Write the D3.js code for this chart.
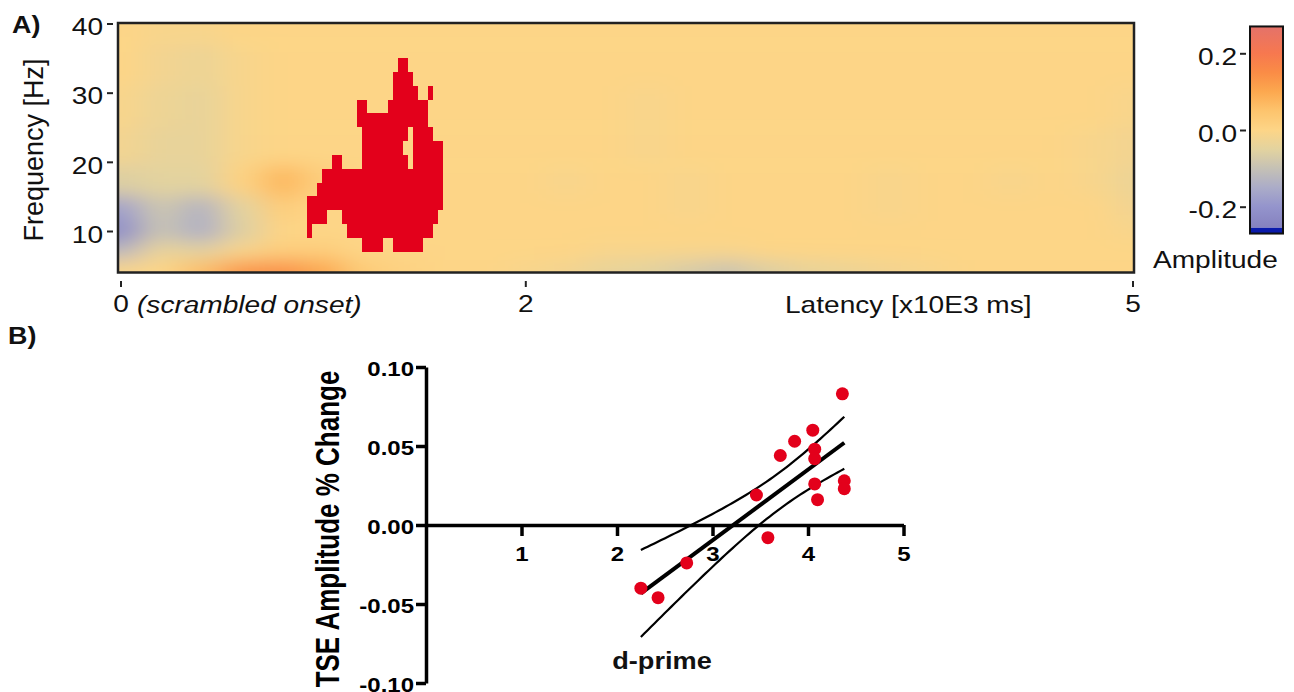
<!DOCTYPE html>
<html>
<head>
<meta charset="utf-8">
<script src="https://cdn.jsdelivr.net/npm/d3@7"></script>
<style>
	body{ margin:0; background:#fff; }
	svg{ display:block; font-family:"Liberation Sans", Arial, sans-serif; }
</style>
</head>
<body>
<div id="chart"></div>
<script>

// ---------- panel A : time-frequency map ----------
const gridTimes = [0,0.2,0.4,0.6,0.8,1.0,1.2,1.4,1.6,1.8,2.0,2.2,2.4,2.6,2.8,3.0,3.2,3.4,3.6,3.8,4.0,4.2,4.4,4.6,4.8,5.0];
const gridFreqs = [40, 34, 28, 22, 17, 13, 10, 7, 4.5];
const ampGrid = [
	[0,-0.01,-0.01,0,0,0,0,0,0,0,0,0,0,0,0,0,0,0,0,0,0,0,0,0,0,0],
	[0,-0.02,-0.03,-0.01,0,0,0,0,0,0,0,0,0,0,0,0,0,0,0,0,0,0,0,0,0,0],
	[-0.01,-0.03,-0.04,-0.01,0,0,0,0,0,0,0,0,0,-0.01,0,0,0,0,0,0,0,0,0,0,0,-0.01],
	[-0.02,-0.04,-0.04,-0.01,0,0,0,0,0,0,0,0,0,-0.01,0,0,0,0,0,0,0,0,0,0,-0.01,-0.02],
	[-0.06,-0.05,-0.05,0.01,0.07,0.02,0,0,0,0,0,-0.01,0,0,-0.01,0,0,0,0,-0.01,0,0,-0.01,0,-0.01,-0.03],
	[-0.17,-0.09,-0.13,-0.05,0.02,0,0,0,0,0,0,0,0,0,-0.01,0,0,0,0,-0.01,0,0,0,0,0,-0.02],
	[-0.22,-0.10,-0.14,-0.06,0,0,0,0,0,0,0,0,0,0,0,0,0,0,0,0,0,0,0,0,0,-0.01],
	[-0.12,-0.04,-0.05,-0.01,0.02,0.02,0,0,0,0,0,0,-0.01,-0.01,-0.01,-0.01,0,0,0,0,0,0,0,0,0,0],
	[-0.01,0,0.06,0.13,0.14,0.10,0.03,0.01,0,0,-0.01,-0.02,-0.04,-0.05,-0.07,-0.09,-0.06,-0.04,-0.03,-0.02,-0.01,0,0,0,0,0]
];

// significant cluster, bins of 25 ms starting at 0.92 (x10E3 ms), 2 Hz rows
const clusterStart = 0.92;
const clusterBin = 0.025;
const clusterFreqs = [34,32,30,28,26,24,22,20,18,16,14,12,10,8];
const clusterRuns = [
	[[18,20]],
	[[17,21]],
	[[17,22],[24,25]],
	[[10,12],[16,24]],
	[[10,24]],
	[[11,20],[21,25]],
	[[11,19],[21,27]],
	[[5,7],[11,20],[21,27]],
	[[3,27]],
	[[2,27]],
	[[0,27]],
	[[0,4],[7,26]],
	[[0,1],[8,25]],
	[[11,15],[17,23]]
];

const freqTicks = [10, 20, 30, 40];
const latencyTicks = [0, 2, 5];
const ampTicks = [-0.2, 0, 0.2];

// ---------- panel B : scatter ----------
const dprime    = [4.36, 4.05, 3.86, 3.71, 4.07, 4.07, 4.07, 4.10, 4.38, 4.38, 3.46, 3.58, 2.73, 2.25, 2.43];
const tseChange = [0.083, 0.060, 0.053, 0.044, 0.048, 0.042, 0.026, 0.016, 0.028, 0.023, 0.019, -0.008, -0.024, -0.040, -0.046];
const dprimeTicks = [1, 2, 3, 4, 5];
const tseTicks = [-0.10, -0.05, 0.00, 0.05, 0.10];

// colour map of the amplitude bar
const ampStops  = [-0.255, -0.2, -0.15, -0.1, -0.05, 0, 0.05, 0.1, 0.15, 0.2, 0.27];
const ampColors = ["#8581bf","#9494cc","#abacc8","#c5c1b5","#e3d39f","#fdd587","#fdc46d","#fca84f","#fa8c46","#f7784f","#e4726a"];

const SX = 1.17;	// the figure's text is stretched sideways
const FS = 24;

const svg = d3.select("#chart")
		.append("svg")
		.attr("width", 1294)
		.attr("height", 692);

const defs = svg.append("defs");

function stretchText(g, sx){
	g.selectAll("text").each(function(){
		const t = d3.select(this);
		const x = +t.attr("x") || 0;
		const y = +t.attr("y") || 0;
		t.attr("x", null).attr("y", null)
			.attr("transform", `translate(${x},${y}) scale(${sx},1)`);
	});
}

function label(x, y, txt, opts){
	opts = opts || {};
	return svg.append("text")
		.attr("transform", `translate(${x},${y}) scale(${opts.sx || SX},1)`)
		.attr("text-anchor", opts.anchor || "start")
		.attr("font-size", opts.size || FS)
		.attr("font-weight", opts.bold ? "bold" : null)
		.attr("font-style", opts.italic ? "italic" : null)
		.attr("fill", "#111")
		.text(txt);
}

// ===== panel A =====
const xA = d3.scaleLinear().domain([0, 5]).range([120.5, 1132.5]);
const yA = d3.scaleLinear().domain([4, 40]).range([272.5, 23.5]);
const colorA = d3.scaleLinear().domain(ampStops).range(ampColors).clamp(true);

const plotA = {x0:118, x1:1134, y0:23, y1:272.5};

defs.append("clipPath").attr("id", "clipA")
	.append("rect")
		.attr("x", plotA.x0).attr("y", plotA.y0)
		.attr("width", plotA.x1 - plotA.x0).attr("height", plotA.y1 - plotA.y0);

defs.append("filter")
		.attr("id", "soft")
		.attr("filterUnits", "userSpaceOnUse")
		.attr("x", 0).attr("y", -100).attr("width", 1294).attr("height", 500)
	.append("feGaussianBlur")
		.attr("stdDeviation", "15 9");

// cell bounds half way between grid centres, outer cells pushed past the frame
const cells = [];
ampGrid.forEach((row, i) => {
	const fTop = i === 0 ? null : (gridFreqs[i - 1] + gridFreqs[i]) / 2;
	const fBot = i === gridFreqs.length - 1 ? null : (gridFreqs[i] + gridFreqs[i + 1]) / 2;
	row.forEach((v, j) => {
		const tL = j === 0 ? null : (gridTimes[j - 1] + gridTimes[j]) / 2;
		const tR = j === gridTimes.length - 1 ? null : (gridTimes[j] + gridTimes[j + 1]) / 2;
		cells.push({
			x0: tL === null ? plotA.x0 - 60 : xA(tL),
			x1: tR === null ? plotA.x1 + 60 : xA(tR),
			y0: fTop === null ? plotA.y0 - 60 : yA(fTop),
			y1: fBot === null ? plotA.y1 + 60 : yA(fBot),
			v: v
		});
	});
});

const mapG = svg.append("g").attr("clip-path", "url(#clipA)");

mapG.append("rect")
	.attr("x", plotA.x0).attr("y", plotA.y0)
	.attr("width", plotA.x1 - plotA.x0).attr("height", plotA.y1 - plotA.y0)
	.attr("fill", colorA(0));

mapG.append("g")
		.attr("filter", "url(#soft)")
	.selectAll("rect")
	.data(cells)
	.join("rect")
		.attr("x", d => d.x0)
		.attr("y", d => d.y0)
		.attr("width", d => d.x1 - d.x0 + 0.5)
		.attr("height", d => d.y1 - d.y0 + 0.5)
		.attr("fill", d => colorA(d.v));

// cluster blocks
const blocks = [];
clusterRuns.forEach((runs, i) => {
	runs.forEach(r => blocks.push({f: clusterFreqs[i], k0: r[0], k1: r[1]}));
});

mapG.append("g")
	.selectAll("rect")
	.data(blocks)
	.join("rect")
		.attr("x", d => xA(clusterStart + d.k0 * clusterBin))
		.attr("y", d => yA(d.f + 1))
		.attr("width", d => xA(clusterStart + d.k1 * clusterBin) - xA(clusterStart + d.k0 * clusterBin))
		.attr("height", d => yA(d.f - 1) - yA(d.f + 1))
		.attr("fill", "#e3001b")
		.attr("shape-rendering", "crispEdges");

svg.append("rect")
	.attr("x", plotA.x0).attr("y", plotA.y0)
	.attr("width", plotA.x1 - plotA.x0).attr("height", plotA.y1 - plotA.y0)
	.attr("fill", "none")
	.attr("stroke", "#222")
	.attr("stroke-width", 2.5);

// frequency axis
const yAxisA = svg.append("g")
	.attr("transform", "translate(113,0)")
	.call(d3.axisLeft(yA).tickValues(freqTicks).tickSize(6).tickPadding(4).tickFormat(d => d));
yAxisA.select(".domain").remove();
yAxisA.selectAll("line").attr("stroke", "#222").attr("stroke-width", 2);
yAxisA.selectAll("text").attr("font-size", FS).attr("font-family", null).attr("fill", "#111").attr("dy", "0.47em");
stretchText(yAxisA, SX);

// latency axis
const xAxisA = svg.append("g")
	.attr("transform", "translate(0,281)")
	.call(d3.axisBottom(xA).tickValues(latencyTicks).tickSize(6).tickPadding(8).tickFormat(d => d));
xAxisA.select(".domain").remove();
xAxisA.selectAll("line").attr("stroke", "#222").attr("stroke-width", 2);
xAxisA.selectAll("text").attr("font-size", FS).attr("font-family", null).attr("fill", "#111");
stretchText(xAxisA, SX);

label(137, 313, "(scrambled onset)", {italic:true});
label(785, 313, "Latency [x10E3 ms]");

svg.append("text")
	.attr("transform", "translate(43,150) rotate(-90)")
	.attr("text-anchor", "middle")
	.attr("font-size", 27)
	.attr("fill", "#111")
	.text("Frequency [Hz]");

label(12, 33, "A)", {bold:true, size:24, sx:1.12});

// amplitude colour bar
const cScale = d3.scaleLinear().domain([-0.2, 0.2]).range([206.7, 53.3]);
const barX = 1250, barW = 33;
const vLo = ampStops[0], vHi = ampStops[ampStops.length - 1];

const grad = defs.append("linearGradient")
	.attr("id", "ampGrad")
	.attr("gradientUnits", "userSpaceOnUse")
	.attr("x1", 0).attr("x2", 0)
	.attr("y1", cScale(vLo)).attr("y2", cScale(vHi));
grad.selectAll("stop")
	.data(ampStops)
	.join("stop")
		.attr("offset", d => (d - vLo) / (vHi - vLo))
		.attr("stop-color", d => colorA(d));

svg.append("rect")
	.attr("x", barX).attr("y", cScale(vHi))
	.attr("width", barW).attr("height", cScale(vLo) - cScale(vHi))
	.attr("fill", "url(#ampGrad)");
svg.append("rect")
	.attr("x", barX).attr("y", cScale(vLo))
	.attr("width", barW).attr("height", cScale(-0.27) - cScale(vLo))
	.attr("fill", "#0a1aab");
svg.append("rect")
	.attr("x", barX).attr("y", cScale(vHi))
	.attr("width", barW).attr("height", cScale(-0.27) - cScale(vHi))
	.attr("fill", "none")
	.attr("stroke", "#111")
	.attr("stroke-width", 2);

const cAxis = svg.append("g")
	.attr("transform", "translate(1246,0)")
	.call(d3.axisLeft(cScale).tickValues(ampTicks).tickSize(6).tickPadding(3).tickFormat(d => d.toFixed(1)));
cAxis.select(".domain").remove();
cAxis.selectAll("line").attr("stroke", "#222").attr("stroke-width", 2);
cAxis.selectAll("text").attr("font-size", FS).attr("font-family", null).attr("fill", "#111").attr("dy", "0.47em");
stretchText(cAxis, SX);

label(1153, 268, "Amplitude");

// ===== panel B =====
const xB = d3.scaleLinear().domain([0, 5]).range([426, 903.5]);
const yB = d3.scaleLinear().domain([-0.1, 0.1]).range([683, 367]);

const yAxisB = svg.append("g")
	.attr("transform", `translate(${xB(0)},0)`)
	.call(d3.axisLeft(yB).tickValues(tseTicks).tickSize(10).tickSizeOuter(0).tickPadding(2).tickFormat(d => d.toFixed(2)));
const xAxisB = svg.append("g")
	.attr("transform", `translate(0,${yB(0)})`)
	.call(d3.axisBottom(xB).tickValues(dprimeTicks).tickSize(11).tickSizeOuter(0).tickPadding(11).tickFormat(d => d));

[yAxisB, xAxisB].forEach(g => {
	g.select(".domain").attr("stroke", "#000").attr("stroke-width", 3.5);
	g.selectAll("line").attr("stroke", "#000").attr("stroke-width", 3.5);
	g.selectAll("text").attr("font-size", 20).attr("font-weight", "bold").attr("font-family", null).attr("fill", "#000");
});
yAxisB.selectAll("text").attr("dy", "0.42em");
stretchText(yAxisB, 1.2);
stretchText(xAxisB, 1.2);

// least squares fit and its 95% confidence band
const n = dprime.length;
const mx = d3.mean(dprime), my = d3.mean(tseChange);
const sxx = d3.sum(dprime, d => (d - mx) * (d - mx));
const sxy = d3.sum(dprime, (d, i) => (d - mx) * (tseChange[i] - my));
const slope = sxy / sxx, icpt = my - slope * mx;
const sres = Math.sqrt(d3.sum(dprime, (d, i) => Math.pow(tseChange[i] - (icpt + slope * d), 2)) / (n - 2));
const tCrit = 2.160;	// df = 13
const [xMin, xMax] = d3.extent(dprime);
const xs = d3.range(0, 61).map(i => xMin + (xMax - xMin) * i / 60);
const half = x => tCrit * sres * Math.sqrt(1 / n + (x - mx) * (x - mx) / sxx);

const line = d3.line().x(d => xB(d[0])).y(d => yB(d[1]));

svg.append("path")
	.attr("d", line(xs.map(x => [x, icpt + slope * x + half(x)])))
	.attr("fill", "none").attr("stroke", "#000").attr("stroke-width", 2.2);
svg.append("path")
	.attr("d", line(xs.map(x => [x, icpt + slope * x - half(x)])))
	.attr("fill", "none").attr("stroke", "#000").attr("stroke-width", 2.2);
svg.append("path")
	.attr("d", line([[xMin, icpt + slope * xMin], [xMax, icpt + slope * xMax]]))
	.attr("fill", "none").attr("stroke", "#000").attr("stroke-width", 4);

svg.append("g")
	.selectAll("circle")
	.data(dprime)
	.join("circle")
		.attr("cx", d => xB(d))
		.attr("cy", (d, i) => yB(tseChange[i]))
		.attr("r", 6.5)
		.attr("fill", "#e3001b");

svg.append("text")
	.attr("transform", "translate(339,529) scale(1.25,1) rotate(-90)")
	.attr("text-anchor", "middle")
	.attr("font-size", 26)
	.attr("font-weight", "bold")
	.attr("fill", "#000")
	.text("TSE Amplitude % Change");

label(662, 669, "d-prime", {bold:true, size:23, anchor:"middle", sx:1.18});
label(8, 344, "B)", {bold:true, size:24, sx:1.12});

</script>
</body>
</html>
